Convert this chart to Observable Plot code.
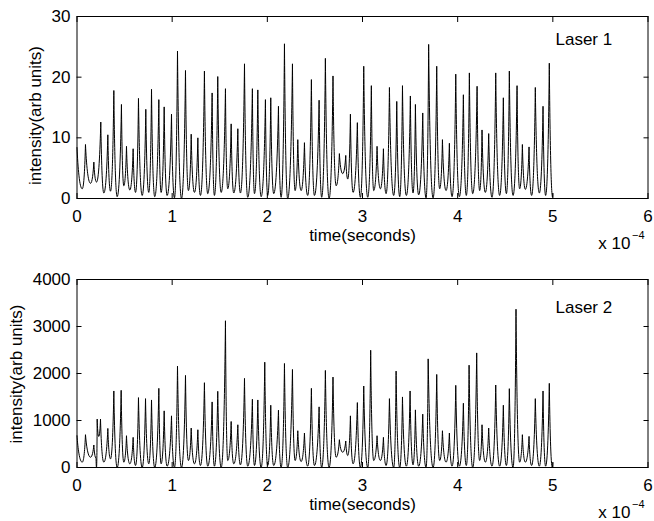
<!DOCTYPE html>
<html>
<head>
<meta charset="utf-8">
<script src="https://cdn.jsdelivr.net/npm/d3@7"></script>
<script src="https://cdn.jsdelivr.net/npm/@observablehq/plot@0.6"></script>
<style>
  html, body { margin: 0; padding: 0; background: #fff; }
  #page { position: relative; width: 654px; height: 521px; overflow: hidden; background: #fff; }
  #page > div { position: absolute; left: 0; }
  #top { top: 0; }
  #bottom { top: 250px; }
</style>
</head>
<body>
<div id="page"><div id="top"></div><div id="bottom"></div></div>
<script>
// Time axis ticks, in units of 1e-4 s
const xTicks = [0, 1, 2, 3, 4, 5, 6];
const laser1Ticks = [0, 10, 20, 30];
const laser2Ticks = [0, 1000, 2000, 3000, 4000];

// Laser 1 intensity: successive minima and maxima [time (1e-4 s), intensity]
const laser1 = [
  [0,8.4],[0.055,1.6],[0.089,8.9],[0.142,2.5],[0.177,6.0],[0.205,2.7],[0.25,12.6],[0.282,0.9],
  [0.324,10.5],[0.352,1.2],[0.387,17.8],[0.422,0.3],[0.467,15.5],[0.492,2.1],[0.52,8.6],[0.555,1.4],
  [0.59,8.2],[0.615,1.0],[0.646,16.5],[0.685,0.5],[0.723,14.7],[0.754,1.0],[0.783,18.0],[0.817,0.3],
  [0.86,16.3],[0.884,1.0],[0.916,15.1],[0.947,0.5],[0.993,13.9],[1.024,0.1],[1.056,24.3],[1.098,0],
  [1.14,21.1],[1.171,1.3],[1.2,10.6],[1.234,1.0],[1.27,10.0],[1.297,0.5],[1.339,21.0],[1.374,0.8],
  [1.42,17.4],[1.444,0.5],[1.479,20.1],[1.515,1.0],[1.56,18.1],[1.584,1.6],[1.62,12.3],[1.647,0.9],
  [1.69,11.5],[1.717,0.9],[1.76,22.2],[1.794,0.2],[1.843,18.1],[1.865,0.8],[1.9,17.9],[1.935,0.3],
  [1.98,16.3],[2.004,0.5],[2.036,16.6],[2.067,0.8],[2.117,15.2],[2.145,0.2],[2.18,25.5],[2.214,0],
  [2.264,22.2],[2.292,1.3],[2.32,9.7],[2.355,1.3],[2.39,9.2],[2.424,0.5],[2.463,19.6],[2.495,0.5],
  [2.544,16.2],[2.571,0.2],[2.61,23.1],[2.649,0],[2.69,20.2],[2.723,2.1],[2.757,7.4],[2.792,4.1],
  [2.824,7.1],[2.845,3.2],[2.873,13.9],[2.901,1.0],[2.946,12.5],[2.978,0.2],[3.013,21.8],[3.055,0.2],
  [3.093,18.6],[3.118,1.3],[3.153,8.6],[3.188,1.6],[3.22,8.2],[3.248,0.8],[3.283,18.3],[3.328,0.5],
  [3.36,16.0],[3.391,0.3],[3.42,18.6],[3.461,0.5],[3.503,16.9],[3.531,0.9],[3.556,15.5],[3.59,0.6],
  [3.633,14.1],[3.668,0.1],[3.695,25.4],[3.742,0.1],[3.78,21.8],[3.811,1.6],[3.84,9.7],[3.878,1.3],
  [3.913,9.1],[3.941,0.3],[3.98,20.5],[4.018,0.3],[4.06,17.1],[4.091,0.5],[4.123,20.7],[4.158,0.8],
  [4.204,18.5],[4.231,1.3],[4.256,11.3],[4.291,1.0],[4.326,10.7],[4.361,0.2],[4.4,20.7],[4.441,0.5],
  [4.48,16.6],[4.512,0.8],[4.543,21.0],[4.582,0.5],[4.624,18.6],[4.651,1.6],[4.68,8.9],[4.711,1.5],
  [4.75,8.5],[4.777,0.5],[4.816,18.3],[4.858,0.9],[4.897,15.2],[4.924,0.5],[4.963,22.3],[4.998,0.2],
  [5.0,0.8]
];

// Laser 2 intensity: successive minima and maxima [time (1e-4 s), intensity]
const laser2 = [
  [0,676],[0.055,113],[0.089,698],[0.142,218],[0.177,479],[0.2,200],[0.205,0],[0.212,1030],
  [0.228,660],[0.247,1030],[0.282,113],[0.324,831],[0.352,183],[0.387,1628],[0.422,0],[0.464,1642],
  [0.492,113],[0.52,676],[0.555,78],[0.59,641],[0.615,42],[0.646,1487],[0.685,0],[0.72,1465],
  [0.754,78],[0.783,1437],[0.817,0],[0.86,1684],[0.884,78],[0.916,1205],[0.947,28],[0.993,1099],
  [1.024,0],[1.056,2156],[1.098,0],[1.14,1959],[1.171,148],[1.2,839],[1.234,78],[1.27,803],
  [1.297,42],[1.339,1804],[1.374,28],[1.42,1395],[1.444,28],[1.479,1621],[1.515,0],[1.56,3122],
  [1.584,148],[1.62,979],[1.647,78],[1.69,909],[1.717,56],[1.76,1896],[1.794,28],[1.843,1452],
  [1.865,42],[1.9,1437],[1.935,0],[1.973,2241],[2.004,42],[2.036,1325],[2.067,42],[2.117,1219],
  [2.145,0],[2.18,2213],[2.214,0],[2.264,2086],[2.292,148],[2.32,782],[2.355,127],[2.39,733],
  [2.424,28],[2.463,1684],[2.495,42],[2.544,1290],[2.571,0],[2.61,2065],[2.649,0],[2.69,1924],
  [2.723,218],[2.757,592],[2.792,324],[2.824,564],[2.845,254],[2.873,1099],[2.901,78],[2.946,1381],
  [2.978,0],[3.013,1734],[3.055,0],[3.086,2495],[3.118,148],[3.153,676],[3.188,148],[3.22,641],
  [3.248,42],[3.283,1465],[3.328,0],[3.353,2051],[3.391,0],[3.42,1501],[3.461,28],[3.5,1628],
  [3.531,56],[3.556,1226],[3.59,28],[3.633,1135],[3.668,0],[3.69,2311],[3.742,0],[3.78,1980],
  [3.811,148],[3.84,782],[3.878,113],[3.913,733],[3.941,28],[3.98,1748],[4.018,28],[4.06,1367],
  [4.091,42],[4.12,2177],[4.158,0],[4.2,2438],[4.231,148],[4.256,909],[4.291,113],[4.326,839],
  [4.361,28],[4.4,1755],[4.441,28],[4.48,1325],[4.512,42],[4.543,1677],[4.582,0],[4.613,3368],
  [4.651,113],[4.68,698],[4.711,113],[4.75,662],[4.777,42],[4.816,1465],[4.858,28],[4.897,1628],
  [4.924,28],[4.963,1790],[4.995,0],[5.0,100]
];

const FONT = "'Liberation Sans', Arial, Helvetica, sans-serif";
const blank = () => "";
const integer = d3.format("d");

// Pulse-shaped curve between alternating extrema: rounded minima and
// pointed maxima (in screen space a smaller y is a higher intensity).
function pulseCurve(context) {
  let x0, y0, started = false;
  return {
    areaStart() {}, areaEnd() {},
    lineStart() { started = false; },
    lineEnd() {},
    point(x, y) {
      x = +x; y = +y;
      if (!started) { context.moveTo(x, y); started = true; }
      else {
        const dx = x - x0, dy = y - y0;
        if (dy < 0) {
          // rising to a peak
          context.bezierCurveTo(x0 + dx * 0.5, y0, x - dx * 0.18, y - dy * 0.5, x, y);
        } else {
          // falling from a peak
          context.bezierCurveTo(x0 + dx * 0.18, y0 + dy * 0.5, x - dx * 0.5, y, x, y);
        }
      }
      x0 = x; y0 = y;
    }
  };
}

function label(text, options) {
  return Plot.text([text], {text: d => d, fontSize: 17, lineAnchor: "middle", textAnchor: "middle", ...options});
}

function panel({samples, yTicks, height, marginTop, marginBottom, name, nameDy, yLabelDx, yLabelDy}) {
  const rows = samples.map(([t, v]) => ({t, v}));
  return Plot.plot({
    width: 654,
    height,
    marginLeft: 76.5,
    marginRight: 6.5,
    marginTop,
    marginBottom,
    style: {fontFamily: FONT, fontSize: "17px", color: "#000", background: "#fff", overflow: "visible"},
    x: {domain: [xTicks[0], xTicks[xTicks.length - 1]]},
    y: {domain: [yTicks[0], yTicks[yTicks.length - 1]]},
    marks: [
      Plot.line(rows, {x: "t", y: "v", stroke: "#000", strokeWidth: 1, curve: pulseCurve}),
      Plot.frame({stroke: "#000", strokeWidth: 1}),
      // tick labels
      Plot.axisX({ticks: xTicks, anchor: "bottom", tickSize: 0, tickPadding: 11, tickFormat: integer, label: null}),
      Plot.axisY({ticks: yTicks, anchor: "left", tickSize: 0, tickPadding: 6.5, tickFormat: integer, label: null}),
      // inward ticks on all four sides
      Plot.axisX({ticks: xTicks, anchor: "bottom", tickSize: -5, tickFormat: blank, label: null}),
      Plot.axisX({ticks: xTicks, anchor: "top", tickSize: -5, tickFormat: blank, label: null}),
      Plot.axisY({ticks: yTicks, anchor: "left", tickSize: -5, tickFormat: blank, label: null}),
      Plot.axisY({ticks: yTicks, anchor: "right", tickSize: -5, tickFormat: blank, label: null}),
      // axis titles
      label("time(seconds)", {frameAnchor: "bottom", dy: 37.3}),
      label("intensity(arb units)", {frameAnchor: "left", rotate: -90, dx: yLabelDx, dy: yLabelDy}),
      // exponent of the time axis
      label("x 10", {frameAnchor: "bottom-right", textAnchor: "end", dx: -17.5, dy: 44.6}),
      label("\u22124", {frameAnchor: "bottom-right", textAnchor: "start", dx: -16, dy: 36.5, fontSize: 11}),
      // panel name
      label(name, {frameAnchor: "top-left", textAnchor: "start", dx: 478.5, dy: nameDy})
    ]
  });
}

document.getElementById("top").append(panel({
  samples: laser1, yTicks: laser1Ticks, height: 250, marginTop: 16, marginBottom: 52,
  name: "Laser 1", nameDy: 22.6, yLabelDx: -41.9, yLabelDy: 8
}));
document.getElementById("bottom").append(panel({
  samples: laser2, yTicks: laser2Ticks, height: 271, marginTop: 29, marginBottom: 54,
  name: "Laser 2", nameDy: 27.6, yLabelDx: -60.9, yLabelDy: 0.5
}));
</script>
</body>
</html>
